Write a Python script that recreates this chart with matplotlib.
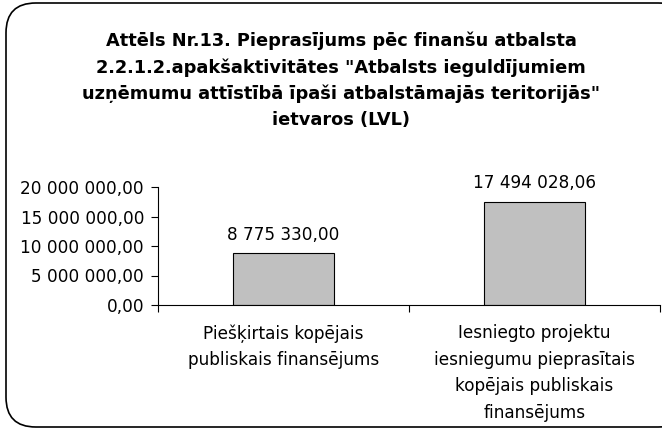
"""Pieprasījums pēc finanšu atbalsta — stabiņu diagramma ar noapaļotu rāmi."""

import matplotlib

matplotlib.use("Agg")

import matplotlib.pyplot as plt
from matplotlib.patches import FancyBboxPatch
from matplotlib.ticker import FuncFormatter, MultipleLocator

TITLE = (
    "Attēls Nr.13. Pieprasījums pēc finanšu atbalsta\n"
    "2.2.1.2.apakšaktivitātes \"Atbalsts ieguldījumiem\n"
    "uzņēmumu attīstībā īpaši atbalstāmajās teritorijās\"\n"
    "ietvaros (LVL)"
)
CATEGORIES = [
    "Piešķirtais kopējais\npubliskais finansējums",
    "Iesniegto projektu\niesniegumu pieprasītais\nkopējais publiskais\nfinansējums",
]
VALUES = [8775330.00, 17494028.06]
Y_MAX = 20000000
Y_STEP = 5000000


def lv_number(value, _pos=None):
    return f"{value:,.2f}".replace(",", " ").replace(".", ",")


plt.rcParams["font.family"] = ["DejaVu Sans"]

fig = plt.figure(figsize=(6.62, 4.32), dpi=100)
W, H = 662, 432

# noapaļots rāmis ap visu diagrammu
frame = FancyBboxPatch(
    (6 / W, 5 / H),
    (W + 20) / W,
    (H - 8) / H,
    boxstyle="round,pad=0,rounding_size=0.045",
    transform=fig.transFigure,
    facecolor="white",
    edgecolor="black",
    linewidth=1.2,
    mutation_aspect=W / H,
    zorder=-5,
)
fig.patches.append(frame)

fig.text(
    341 / W,
    1 - 32 / H,
    TITLE,
    ha="center",
    va="top",
    fontsize=12.8,
    fontweight="bold",
    linespacing=1.55,
    zorder=5,
)

ax = fig.add_axes([158 / W, 1 - 305 / H, 502 / W, 118 / H], zorder=2)
ax.patch.set_alpha(0)

positions = range(len(VALUES))
ax.bar(positions, VALUES, width=0.4, color="#c0c0c0", edgecolor="black", linewidth=0.8)

for x, value in zip(positions, VALUES):
    ax.annotate(
        lv_number(value),
        (x, value),
        xytext=(0, 7),
        textcoords="offset points",
        ha="center",
        va="bottom",
        fontsize=12.2,
    )

ax.set_xlim(-0.5, len(VALUES) - 0.5)
ax.set_ylim(0, Y_MAX)
ax.yaxis.set_major_locator(MultipleLocator(Y_STEP))
ax.yaxis.set_major_formatter(FuncFormatter(lv_number))

ax.set_xticks([-0.5, 0.5, 1.5])
ax.set_xticklabels([])
ax.set_xticks(list(positions), minor=True)
ax.set_xticklabels(CATEGORIES, minor=True, fontsize=12.2, linespacing=1.6, va="top")
ax.tick_params(axis="x", which="major", direction="out", length=5, width=0.8)
ax.tick_params(axis="x", which="minor", length=0, pad=14)
ax.tick_params(axis="y", direction="out", length=5, width=0.8, labelsize=12.2, pad=5)

for side in ("top", "right"):
    ax.spines[side].set_visible(False)
for side in ("left", "bottom"):
    ax.spines[side].set_linewidth(0.8)

fig.savefig("out.png", dpi=100)
